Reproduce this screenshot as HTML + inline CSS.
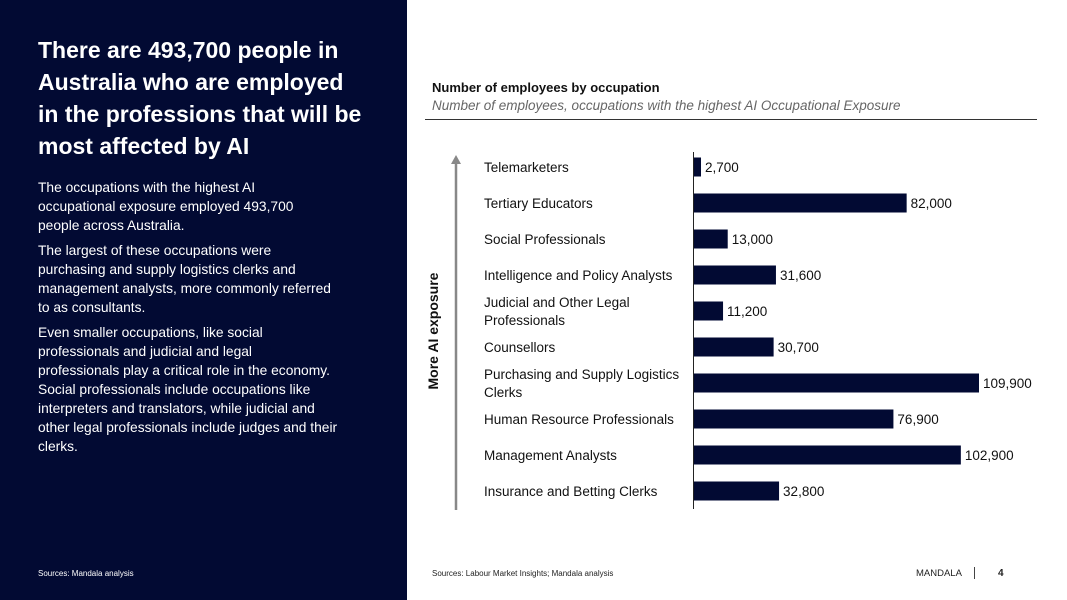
<!DOCTYPE html>
<html><head><meta charset="utf-8"><style>
body{margin:0;width:1067px;height:600px;position:relative;font-family:"Liberation Sans",sans-serif;background:#fff;overflow:hidden}
#left{position:absolute;left:0;top:0;width:407px;height:600px;background:#020a33;color:#fff}
h1{position:absolute;left:38px;top:34px;margin:0;font-size:23px;line-height:32px;font-weight:bold;width:360px;white-space:nowrap}
.body{position:absolute;left:38px;top:178px;width:340px;font-size:13.8px;line-height:19px;white-space:nowrap}
.body p{margin:0 0 6px 0}
.src{position:absolute;font-size:8px;top:569px}
</style></head><body>
<div id="left">
<h1>There are 493,700 people in<br>Australia who are employed<br>in the professions that will be<br>most affected by AI</h1>
<div class="body">
<p>The occupations with the highest AI<br>occupational exposure employed 493,700<br>people across Australia.</p>
<p>The largest of these occupations were<br>purchasing and supply logistics clerks and<br>management analysts, more commonly referred<br>to as consultants.</p>
<p>Even smaller occupations, like social<br>professionals and judicial and legal<br>professionals play a critical role in the economy.<br>Social professionals include occupations like<br>interpreters and translators, while judicial and<br>other legal professionals include judges and their<br>clerks.</p>
</div>
<div class="src" style="left:38px;color:#fff">Sources: Mandala analysis</div>
</div>
<div style="position:absolute;left:432px;top:80px;font-size:13px;font-weight:bold;color:#111">Number of employees by occupation</div>
<div style="position:absolute;left:432px;top:98px;font-size:13.5px;font-style:italic;color:#666">Number of employees, occupations with the highest AI Occupational Exposure</div>
<div style="position:absolute;left:425px;top:119px;width:612px;height:1px;background:#333"></div>
<svg id="chart" width="1067" height="600" style="position:absolute;left:0;top:0"></svg>
<div class="src" style="left:432px;color:#222">Sources: Labour Market Insights; Mandala analysis</div>
<div style="position:absolute;left:916px;top:568px;font-size:9.5px;color:#222">MANDALA</div>
<div style="position:absolute;left:974px;top:567px;width:1px;height:12px;background:#444"></div>
<div style="position:absolute;left:998px;top:568px;font-size:10px;font-weight:bold;color:#222">4</div>
<script>
const categories=[["Telemarketers"],["Tertiary Educators"],["Social Professionals"],["Intelligence and Policy Analysts"],["Judicial and Other Legal","Professionals"],["Counsellors"],["Purchasing and Supply Logistics","Clerks"],["Human Resource Professionals"],["Management Analysts"],["Insurance and Betting Clerks"]];
const values=[2700,82000,13000,31600,11200,30700,109900,76900,102900,32800];
const valueLabels=["2,700","82,000","13,000","31,600","11,200","30,700","109,900","76,900","102,900","32,800"];
const svg=document.getElementById('chart');const NS="http://www.w3.org/2000/svg";
const x0=694,xs=285/109900;const x=v=>x0+v*xs;const y=i=>167+i*36;
function mk(t,a){const e=document.createElementNS(NS,t);for(const k in a)e.setAttribute(k,a[k]);svg.appendChild(e);return e;}
values.forEach((v,i)=>{
 const r=mk('rect',{x:x0,y:y(i)-9.5,width:x(v)-x0,height:19,fill:'#020a33'});
 
 
 const t=mk('text',{x:x(v)+4,y:y(i)+5,'font-size':'13.5','fill':'#111','font-family':'Liberation Sans'});t.textContent=valueLabels[i];
 
 
 const lines=categories[i];
 lines.forEach((s,j)=>{const c=mk('text',{x:484,y:y(i)+5+(j-(lines.length-1)/2)*18,'font-size':'13.5','fill':'#111','font-family':'Liberation Sans'});c.textContent=s;
 
 });
});
const ax=mk('line',{x1:693.5,y1:152,x2:693.5,y2:509,stroke:'#222','stroke-width':1});


const ar=mk('line',{x1:456,y1:162,x2:456,y2:510,stroke:'#888','stroke-width':2.5});


const ah=mk('polygon',{points:'451,164 461,164 456,155',fill:'#888'});


const at=mk('text',{x:0,y:0,transform:'translate(438,331) rotate(-90)','text-anchor':'middle','font-size':'14','font-weight':'bold','fill':'#111','font-family':'Liberation Sans'});at.textContent='More AI exposure';


</script>
</body></html>
